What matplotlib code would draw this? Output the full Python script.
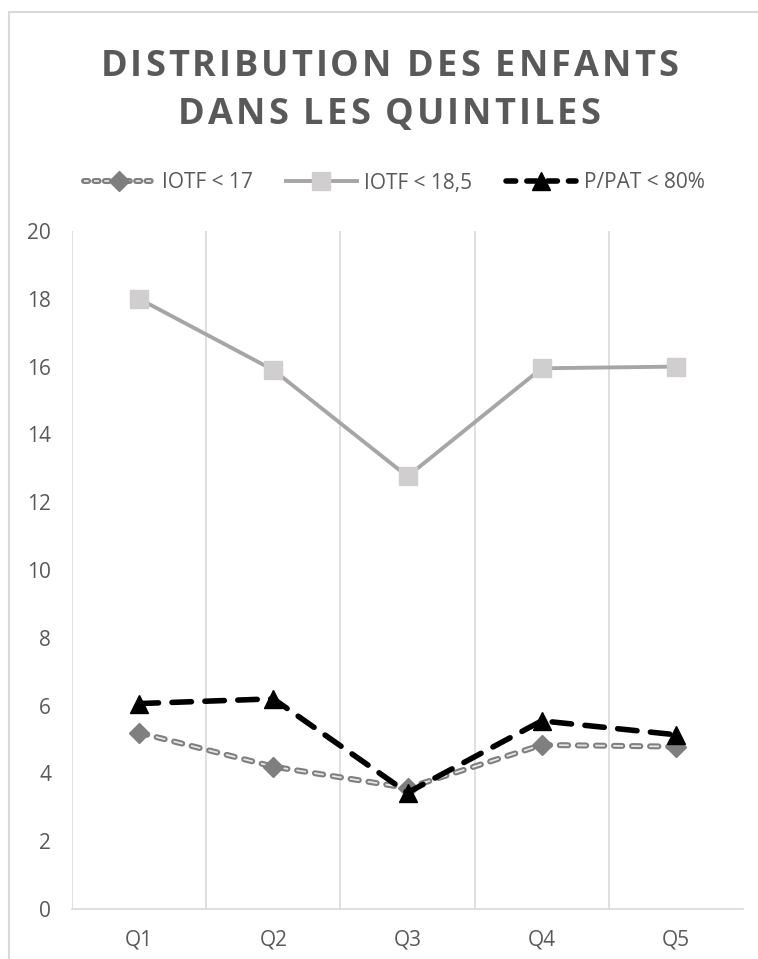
import matplotlib
matplotlib.use("Agg")
import matplotlib.pyplot as plt
from matplotlib.patches import Rectangle
from matplotlib.font_manager import FontProperties
from matplotlib.legend_handler import HandlerTuple
from matplotlib.lines import Line2D

categories = ["Q1", "Q2", "Q3", "Q4", "Q5"]
iotf17 = [5.2, 4.2, 3.57, 4.84, 4.79]
iotf185 = [18.0, 15.9, 12.76, 15.95, 16.0]
ppat80 = [6.06, 6.2, 3.43, 5.55, 5.14]
series_names = ["IOTF < 17", "IOTF < 18,5", "P/PAT < 80%"]
yticks = [0, 2, 4, 6, 8, 10, 12, 14, 16, 18, 20]
title_lines = ["DISTRIBUTION DES ENFANTS", "DANS LES QUINTILES"]

plt.rcParams['font.family'] = ['Open Sans', 'DejaVu Sans']
plt.rcParams['lines.scale_dashes'] = False
TXT = '#595959'
FS = 15

W, H = 758, 959
fig = plt.figure(figsize=(W/100, H/100), dpi=100)
ax = fig.add_axes([72/W, 1-909/H, (743-72)/W, (909-231)/H])

x = list(range(len(categories)))

# IOTF < 17: compound dashed line (gray outline, light core) + diamond markers
l17a, = ax.plot(x, iotf17, color='#7f7f7f', lw=4.3, ls=(0, (6.0, 7.0)),
                dash_capstyle='round', zorder=3)
l17b, = ax.plot(x, iotf17, color='#e6e6e6', lw=1.3, ls=(0.5, (7.0, 6.0)), zorder=3.1)
l17m, = ax.plot(x, iotf17, ls='none', marker='D', markersize=10,
                markerfacecolor='#7f7f7f', markeredgecolor='#7f7f7f', zorder=3.2)

l185, = ax.plot(x, iotf185, color='#a6a6a6', lw=2.8, zorder=3,
                marker='s', markersize=12.5, markerfacecolor='#d0cece', markeredgecolor='#d0cece')

lp, = ax.plot(x, ppat80, color='black', lw=4.0, ls=(0, (14, 9.7)), dash_capstyle='round',
              zorder=4, marker='^', markersize=12.5, markerfacecolor='black',
              markeredgecolor='black')

ax.set_xlim(-0.5, 4.5)
ax.set_ylim(0, 20)
ax.set_yticks(yticks)
ax.set_yticklabels([str(v) for v in yticks])
ax.set_xticks(x)
ax.set_xticklabels(categories)
ax.tick_params(axis='both', length=0, labelsize=FS, colors=TXT)
ax.tick_params(axis='y', pad=15)
ax.tick_params(axis='x', pad=15)
for s in ['top', 'right', 'left']:
    ax.spines[s].set_visible(False)
ax.spines['bottom'].set_color('#d9d9d9')
ax.spines['bottom'].set_linewidth(1.2)
for b in [-0.5, 0.5, 1.5, 2.5, 3.5]:
    ax.axvline(b, color='#d9d9d9', lw=1.2, zorder=1)

# Letter-spaced title
renderer = fig.canvas.get_renderer()
fp = FontProperties(family=['Open Sans', 'DejaVu Sans'], weight='bold', size=26)
spacing_px = 3.0
title_center = 389
for line, yc in zip(title_lines, [62, 111]):
    widths = []
    for ch in line:
        w, h, d = renderer.get_text_width_height_descent(ch if ch != ' ' else 'I', fp, ismath=False)
        if ch == ' ':
            w = renderer.get_text_width_height_descent('A A', fp, ismath=False)[0] - \
                renderer.get_text_width_height_descent('AA', fp, ismath=False)[0]
        widths.append(w)
    total = sum(widths) + spacing_px * (len(line) - 1)
    xpos = title_center - total / 2
    for ch, w in zip(line, widths):
        if ch != ' ':
            fig.text(xpos / W, 1 - yc / H, ch, ha='left', va='center_baseline',
                     fontproperties=fp, color=TXT)
        xpos += w + spacing_px

# legend proxies with shorter dash pattern (as in the reference legend)
h17a = Line2D([], [], color='#7f7f7f', lw=4.3, ls=(0, (3.0, 4.5)), dash_capstyle='round')
h17b = Line2D([], [], color='#e6e6e6', lw=1.3, ls=(0.3, (3.6, 3.9)))
h17m = Line2D([], [], ls='none', marker='D', markersize=10,
              markerfacecolor='#7f7f7f', markeredgecolor='#7f7f7f')
hp = Line2D([], [], color='black', lw=4.0, ls=(0, (7, 8)), dash_capstyle='round',
            marker='^', markersize=12.5, markerfacecolor='black', markeredgecolor='black')

leg = fig.legend(handles=[(h17a, h17b, h17m), l185, hp], labels=series_names,
                 handler_map={tuple: HandlerTuple(ndivide=1)},
                 loc='center', bbox_to_anchor=(0.52, 1-183/H),
                 ncol=3, frameon=False, fontsize=FS, handlelength=3.4, columnspacing=1.6,
                 handletextpad=0.35)
for t in leg.get_texts():
    t.set_color(TXT)

fig.patches.append(Rectangle((9/W, -0.05), 1.1, 1-12/H+0.05, transform=fig.transFigure,
                             fill=False, edgecolor='#d9d9d9', lw=1.5))

fig.savefig('out.png', dpi=100)
